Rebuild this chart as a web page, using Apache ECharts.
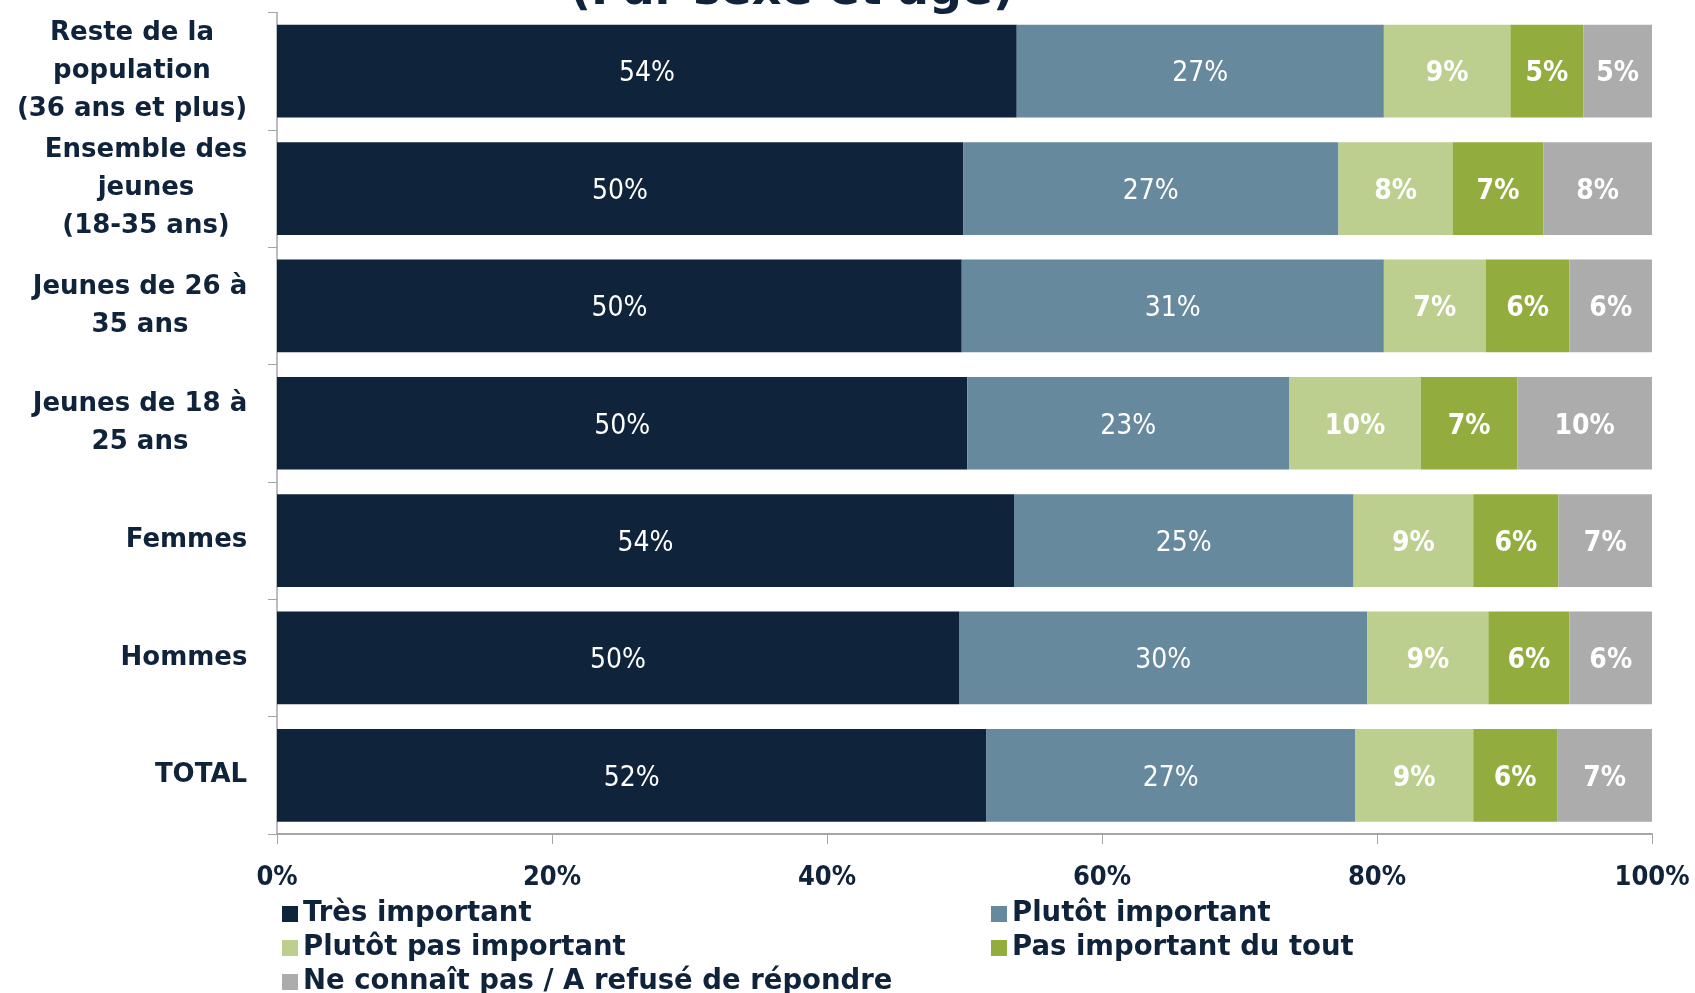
<!DOCTYPE html>
<html>
<head>
<meta charset="utf-8">
<script src="https://cdn.jsdelivr.net/npm/echarts@6/dist/echarts.min.js"></script>
<style>
  html, body { margin: 0; padding: 0; background: #ffffff; }
  #chart { width: 1695px; height: 993px; }
</style>
</head>
<body>
<div id="chart"></div>
<script>
// Groups, top to bottom
const categories = [
  'Reste de la\npopulation\n(36 ans et plus)',
  'Ensemble des\njeunes\n(18-35 ans)',
  'Jeunes de 26 à\n35 ans',
  'Jeunes de 18 à\n25 ans',
  'Femmes',
  'Hommes',
  'TOTAL'
];

// Share of answers (%) per group
const tresImportant      = [53.8, 49.9, 49.8, 50.2, 53.6, 49.6, 51.6];
const plutotImportant    = [26.7, 27.3, 30.7, 23.4, 24.7, 29.7, 26.8];
const plutotPasImportant = [9.2, 8.3, 7.4, 9.6, 8.7, 8.8, 8.6];
const pasImportantDuTout = [5.3, 6.6, 6.1, 7.0, 6.2, 5.9, 6.1];
const neConnaitPas       = [5.0, 7.9, 6.0, 9.8, 6.8, 6.0, 6.9];

const seriesNames = [
  'Très important',
  'Plutôt important',
  'Plutôt pas important',
  'Pas important du tout',
  'Ne connaît pas / A refusé de répondre'
];
const xTicks = [0, 20, 40, 60, 80, 100];

const colors = ['#0f233b', '#67899e', '#bdcf8f', '#92ad3e', '#acacad'];
const seriesData = [tresImportant, plutotImportant, plutotPasImportant, pasImportantDuTout, neConnaitPas];

const textColor = '#0f233b';
const wideFont = '"DejaVu Sans", sans-serif';
const condFont = '"DejaVu Sans Condensed", "DejaVu Sans", sans-serif';

// Category labels: each block is right-aligned on the axis, its lines centred within it
const catFontSize = 26;
const measureCtx = document.createElement('canvas').getContext('2d');
measureCtx.font = 'bold ' + catFontSize + 'px ' + wideFont;
const catRich = {};
categories.forEach((c, i) => {
  const w = Math.max(...c.split('\n').map(l => measureCtx.measureText(l).width));
  catRich['c' + i] = {
    width: Math.ceil(w) + 1,
    align: 'center',
    color: textColor,
    fontFamily: wideFont,
    fontWeight: 'bold',
    fontSize: catFontSize,
    lineHeight: 38
  };
});

const chart = echarts.init(document.getElementById('chart'), null, { renderer: 'canvas' });

const series = seriesNames.map((name, i) => ({
  name: name,
  type: 'bar',
  stack: 'total',
  barCategoryGap: '21%',
  data: seriesData[i],
  itemStyle: { color: colors[i] },
  label: {
    show: true,
    position: 'inside',
    color: '#ffffff',
    fontFamily: condFont,
    fontSize: 28,
    fontWeight: i < 2 ? 'normal' : 'bold',
    offset: [0, 3],
    formatter: p => Math.round(p.value) + '%'
  },
  emphasis: { disabled: true }
}));

// Legend: two columns, three rows
const legendPos = [
  { left: 282, top: 900 },
  { left: 991, top: 900 },
  { left: 282, top: 934 },
  { left: 991, top: 934 },
  { left: 282, top: 968 }
];
const legends = seriesNames.map((name, i) => ({
  data: [name],
  left: legendPos[i].left,
  top: legendPos[i].top,
  padding: 0,
  icon: 'rect',
  itemWidth: 16,
  itemHeight: 16,
  itemGap: 6,
  selectedMode: false,
  textStyle: {
    color: textColor,
    fontFamily: wideFont,
    fontWeight: 'bold',
    fontSize: 27.5
  }
}));

chart.setOption({
  animation: false,
  backgroundColor: '#ffffff',
  color: colors,
  graphic: [{
    type: 'text',
    x: 792,
    y: -31,
    style: {
      text: '(Par sexe et âge)',
      fill: textColor,
      font: 'bold 46px ' + wideFont,
      textAlign: 'center',
      textVerticalAlign: 'top'
    }
  }],
  legend: legends,
  grid: { left: 277, right: 43, top: 12.5, bottom: 159, containLabel: false },
  xAxis: {
    type: 'value',
    min: 0,
    max: 100,
    interval: 20,
    axisLine: { show: true, lineStyle: { color: '#a6a6a6', width: 2 } },
    axisTick: { show: true, length: 10, lineStyle: { color: '#a6a6a6', width: 1 } },
    splitLine: { show: false },
    axisLabel: {
      margin: 30,
      color: textColor,
      fontFamily: condFont,
      fontWeight: 'bold',
      fontSize: 27,
      formatter: v => xTicks.includes(v) ? v + '%' : ''
    }
  },
  yAxis: {
    type: 'category',
    inverse: true,
    data: categories,
    axisLine: { show: true, lineStyle: { color: '#a6a6a6', width: 1.5 } },
    axisTick: { show: true, length: 9, alignWithLabel: false, lineStyle: { color: '#a6a6a6' } },
    axisLabel: {
      margin: 29,
      align: 'right',
      rich: catRich,
      formatter: (value, index) => value.split('\n').map(l => '{c' + index + '|' + l + '}').join('\n')
    }
  },
  series: series
});
</script>
</body>
</html>
